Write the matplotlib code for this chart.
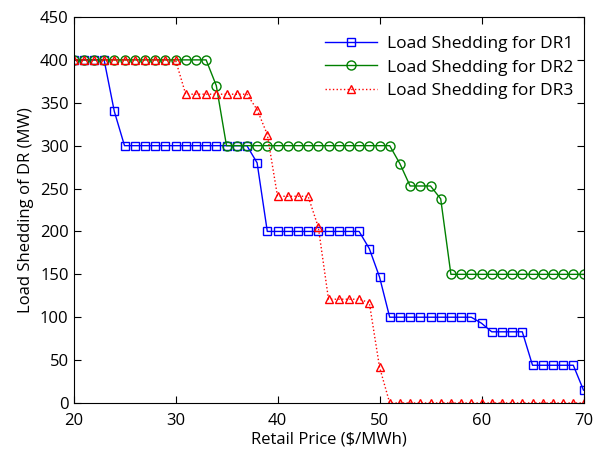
import numpy as np
import matplotlib.pyplot as plt

plt.rcParams['font.family'] = ['Open Sans', 'DejaVu Sans']

price = np.arange(20, 71)

dr1 = [400, 400, 400, 400, 340,
       300, 300, 300, 300, 300, 300, 300, 300, 300, 300, 300, 300, 300,
       280,
       200, 200, 200, 200, 200, 200, 200, 200, 200, 200,
       180, 147,
       100, 100, 100, 100, 100, 100, 100, 100, 100,
       93,
       83, 83, 83, 83,
       44, 44, 44, 44, 44,
       15]

dr2 = [400] * 14 + [370] + [300] * 17 + [279, 253, 253, 253, 238] + [150] * 14

dr3 = ([400] * 11 + [360] * 7 + [342, 313] + [241] * 4 + [205]
       + [121] * 4 + [117, 42] + [0] * 20)

labels = ['Load Shedding for DR1', 'Load Shedding for DR2', 'Load Shedding for DR3']

fig = plt.figure(figsize=(5.97, 4.51), dpi=100)
ax = fig.add_axes([73.5 / 597, 48 / 451, 510 / 597, 386 / 451])

ax.plot(price, dr1, '-s', color='#0000ff', lw=1, ms=6, mfc='none', mew=1, label=labels[0])
ax.plot(price, dr2, '-o', color='#008000', lw=1, ms=6.5, mfc='none', mew=1, label=labels[1])
ax.plot(price, dr3, ':^', color='#ff0000', lw=1, ms=6, mfc='none', mew=1, label=labels[2])

ax.set_xlim(20, 70)
ax.set_ylim(0, 450)
ax.set_xticks(range(20, 71, 10))
ax.set_yticks(range(0, 451, 50))
ax.tick_params(direction='in', top=True, right=True, labelsize=12, length=5)
ax.tick_params(axis='x', pad=7)
ax.set_xlabel('Retail Price ($/MWh)', fontsize=12, labelpad=2)
ax.set_ylabel('Load Shedding of DR (MW)', fontsize=12)

ax.legend(loc='upper right', bbox_to_anchor=(1 - 3 / 510, 1 - 12 / 386),
          borderaxespad=0, frameon=False, fontsize=12.5, handlelength=3,
          labelspacing=0.42, handletextpad=0.6)

fig.savefig('out.png', dpi=100)
